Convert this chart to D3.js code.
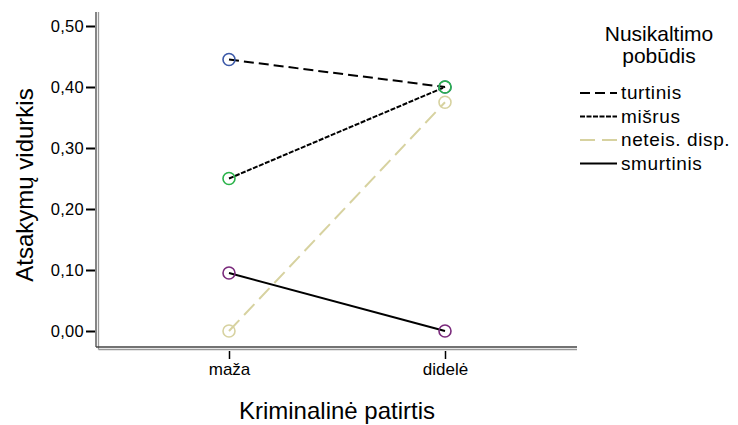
<!DOCTYPE html>
<html><head><meta charset="utf-8">
<script src="https://cdn.jsdelivr.net/npm/d3@7"></script>
<style>body{margin:0;background:#fff}svg text{font-family:Arial,"Liberation Sans",sans-serif}</style>
</head><body><svg id="c" width="738" height="425"></svg>
<script>
const categories = ["maža", "didelė"];
const seriesNames = ["turtinis", "mišrus", "neteis. disp.", "smurtinis"];
const turtinis = [0.445, 0.40];
const misrus = [0.25, 0.40];
const neteis = [0.0, 0.375];
const smurtinis = [0.095, 0.0];
const yTicks = [0, 0.1, 0.2, 0.3, 0.4, 0.5];
const seriesValues = [turtinis, misrus, neteis, smurtinis];
const markerColors = ["#3c59a8", "#2ab34a", "#d7d2a0", "#7a2a7c"];
const lineColors = ["#000", "#000", "#d7d2a0", "#000"];
const dashes = ["10,5", "5,1.5", "15,7", null];

const svg = d3.select("#c");
const x = d3.scalePoint().domain(categories).range([229, 445]);
const y = d3.scaleLinear().domain([0, 0.5]).range([331, 26]);
const fmt = d => d3.format(".2f")(d).replace(".", ",");

// axes frame (double lines)
svg.append("line").attr("x1",96).attr("x2",96).attr("y1",12).attr("y2",347).attr("stroke","#444").attr("stroke-width",1.3);
svg.append("line").attr("x1",98.5).attr("x2",98.5).attr("y1",12).attr("y2",349.5).attr("stroke","#999").attr("stroke-width",1.3);
svg.append("line").attr("x1",96).attr("x2",577).attr("y1",347).attr("y2",347).attr("stroke","#444").attr("stroke-width",1.3);
svg.append("line").attr("x1",98.5).attr("x2",577).attr("y1",349.5).attr("y2",349.5).attr("stroke","#999").attr("stroke-width",1.3);

// y axis
const ya = svg.append("g").attr("transform","translate(95,0)")
  .call(d3.axisLeft(y).tickValues(yTicks).tickFormat(fmt).tickSize(9).tickPadding(2));
ya.select(".domain").remove();
ya.selectAll(".tick line").attr("stroke","#000").attr("stroke-width",2);
ya.selectAll("text").style("font-size","16.5px").attr("fill","#000").attr("letter-spacing",0.3);

// x axis
const xa = svg.append("g").attr("transform","translate(0,351)")
  .call(d3.axisBottom(x).tickSize(8).tickPadding(4));
xa.select(".domain").remove();
xa.selectAll(".tick line").attr("stroke","#000").attr("stroke-width",1.5);
xa.selectAll("text").style("font-size","17px").attr("fill","#000");

// labels
svg.append("text").attr("transform","translate(33,185) rotate(-90)").attr("text-anchor","middle")
  .style("font-size","24px").text("Atsakymų vidurkis");
svg.append("text").attr("x",337).attr("y",419).attr("text-anchor","middle").style("font-size","24px").text("Kriminalinė patirtis");

// lines
const line = d3.line().x((d,i)=>x(categories[i])).y(d=>y(d));
seriesValues.forEach((vals,s)=>{
  svg.append("path").attr("d",line(vals)).attr("fill","none").attr("stroke",lineColors[s])
    .attr("stroke-width",2).attr("stroke-dasharray",dashes[s]);
});
seriesValues.forEach((vals,s)=>{
  vals.forEach((v,i)=>{
    svg.append("circle").attr("cx",x(categories[i])).attr("cy",y(v)).attr("r",6)
      .attr("fill","none").attr("stroke",markerColors[s]).attr("stroke-width",1.6);
  });
});

// legend
svg.append("text").attr("x",659).attr("y",41).attr("text-anchor","middle").style("font-size","21px").text("Nusikaltimo");
svg.append("text").attr("x",659).attr("y",63).attr("text-anchor","middle").style("font-size","21px").text("pobūdis");
seriesNames.forEach((n,s)=>{
  const yy = 93 + s*23.5;
  svg.append("line").attr("x1",580).attr("x2",617).attr("y1",yy).attr("y2",yy)
    .attr("stroke",lineColors[s]).attr("stroke-width",2).attr("stroke-dasharray",dashes[s]);
  svg.append("text").attr("x",621).attr("y",yy+6).style("font-size","19px").attr("letter-spacing",0.6).text(n);
});
</script></body></html>
